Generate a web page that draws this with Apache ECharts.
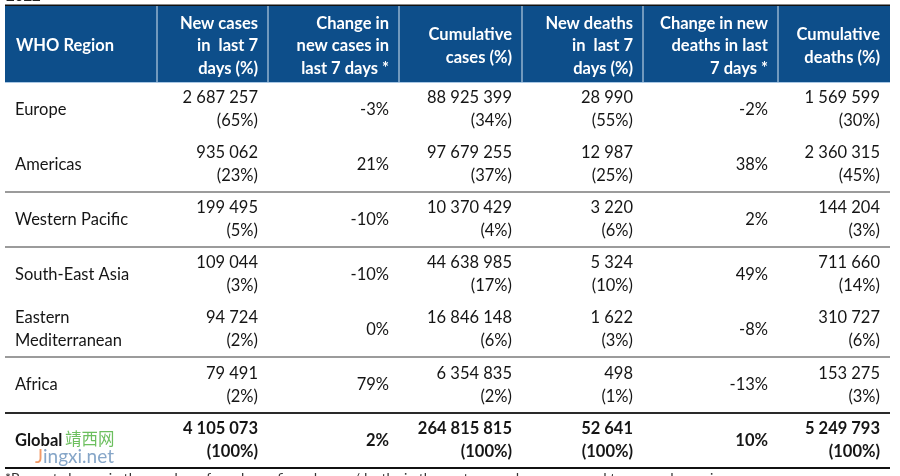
<!DOCTYPE html>
<html>
<head>
<meta charset="utf-8">
<script src="https://cdn.jsdelivr.net/npm/echarts@6/dist/echarts.min.js"></script>
<style>
html,body{margin:0;padding:0;background:#fff;}
#chart{width:900px;height:476px;}
</style>
</head>
<body>
<div id="chart"></div>
<script>
// ---- data ----
const headers = ['WHO Region', 'New cases\nin  last 7\ndays (%)', 'Change in\nnew cases in\nlast 7 days *', 'Cumulative\ncases (%)', 'New deaths\nin  last 7\ndays (%)', 'Change in new\ndeaths in last\n7 days *', 'Cumulative\ndeaths (%)'];
const regions = ['Europe', 'Americas', 'Western Pacific', 'South-East Asia', 'Eastern\nMediterranean', 'Africa', 'Global'];
const newCases = [2687257, 935062, 199495, 109044, 94724, 79491, 4105073];
const newCasesPct = [65, 23, 5, 3, 2, 2, 100];
const changeCases = [-3, 21, -10, -10, 0, 79, 2];
const cumCases = [88925399, 97679255, 10370429, 44638985, 16846148, 6354835, 264815815];
const cumCasesPct = [34, 37, 4, 17, 6, 2, 100];
const newDeaths = [28990, 12987, 3220, 5324, 1622, 498, 52641];
const newDeathsPct = [55, 25, 6, 10, 3, 1, 100];
const changeDeaths = [-2, 38, 2, 49, -8, -13, 10];
const cumDeaths = [1569599, 2360315, 144204, 711660, 310727, 153275, 5249793];
const cumDeathsPct = [30, 45, 3, 14, 6, 3, 100];
const footnote = '*Percent change in the number of newly confirmed cases/deaths in the past seven days, compared to seven days prior';

// ---- layout (not data) ----
const colEdges = [0, 152, 263, 394, 517, 638, 773, 885];
const rowEdges = [0, 76, 131, 186, 241, 296, 351, 407, 462];
const HEADER_BG = '#0d4e8a';
const FONT = 'Lato, "Open Sans", sans-serif';

function fmt(n) { return String(n).replace(/\B(?=(\d{3})+(?!\d))/g, ' '); }
function pct(p) { return '(' + p + '%)'; }

const cellText = regions.map((r, i) => [
  r,
  fmt(newCases[i]) + '\n' + pct(newCasesPct[i]),
  changeCases[i] + '%',
  fmt(cumCases[i]) + '\n' + pct(cumCasesPct[i]),
  fmt(newDeaths[i]) + '\n' + pct(newDeathsPct[i]),
  changeDeaths[i] + '%',
  fmt(cumDeaths[i]) + '\n' + pct(cumDeathsPct[i])
]);

const headerData = headers.map((h, c) => [c, 0]);
const bodyData = [];
cellText.forEach((row, r) => row.forEach((t, c) => bodyData.push([c, r + 1])));
// bottom rules after body rows: index in rowEdges, style key
const rules = [[3, 'g'], [4, 'g'], [6, 'g'], [7, 'd'], [8, 'b']];

function rect(api, c, r) {
  const p0 = api.coord([colEdges[c], rowEdges[r]]);
  const p1 = api.coord([colEdges[c + 1], rowEdges[r + 1]]);
  return { x: p0[0], y: p0[1], w: p1[0] - p0[0], h: p1[1] - p0[1] };
}

const chart = echarts.init(document.getElementById('chart'), null, { renderer: 'canvas' });
chart.setOption({
  animation: false,
  backgroundColor: '#fff',
  grid: { left: 5, top: 6, width: 885, height: 462, containLabel: false },
  xAxis: { type: 'value', min: 0, max: 885, show: false },
  yAxis: { type: 'value', min: 0, max: 462, inverse: true, show: false },
  graphic: [
    { type: 'rect', left: 5, top: 4.5, shape: { width: 885, height: 1.5 }, style: { fill: '#111' } },
    { type: 'text', left: 6, top: -11, style: { text: '2022', font: 'bold 15px ' + FONT, fill: '#222' } },
    { type: 'text', left: 65, top: 430, style: { text: '靖西网', font: '16.5px "Noto Sans CJK SC", sans-serif', fill: '#6cbf5e' } },
    { type: 'text', left: 35, top: 447, style: { rich: { j: { fill: '#f29a66', font: '19px ' + FONT }, n: { fill: '#86a6c8', font: '19px ' + FONT } }, text: '{j|J}{n|ingxi.net}' } },
    { type: 'text', left: 5, top: 471.5, style: { text: footnote, font: '14px ' + FONT, fill: '#333' } }
  ],
  series: [
    {
      type: 'custom', coordinateSystem: 'cartesian2d', data: headerData, silent: true,
      renderItem: function (params, api) {
        const c = api.value(0), r = api.value(1);
        const b = rect(api, c, r);
        const children = [
          { type: 'rect', shape: { x: b.x, y: b.y, width: b.w, height: b.h }, style: { fill: HEADER_BG } },
          { type: 'rect', shape: { x: b.x, y: b.y + b.h, width: b.w, height: 1 }, style: { fill: '#a9c7e4' } }
        ];
        if (c > 0) children.push({ type: 'rect', shape: { x: b.x - 0.5, y: b.y, width: 1, height: b.h }, style: { fill: '#d6e3f0' } });
        const left = c === 0;
        children.push({
          type: 'text',
          style: {
            text: headers[c], x: left ? b.x + 11 : b.x + b.w - 10, y: b.y + b.h / 2 + 2,
            align: left ? 'left' : 'right', verticalAlign: 'middle',
            textAlign: left ? 'left' : 'right', textVerticalAlign: 'middle',
            font: 'bold 16.5px ' + FONT, fill: '#fff', lineHeight: 22.5
          }
        });
        return { type: 'group', children: children };
      }
    },
    {
      type: 'custom', coordinateSystem: 'cartesian2d', data: bodyData, silent: true,
      renderItem: function (params, api) {
        const c = api.value(0), r = api.value(1);
        const b = rect(api, c, r);
        const left = c === 0;
        const bold = r === rowEdges.length - 2;
        return {
          type: 'text',
          style: {
            text: cellText[r - 1][c], x: left ? b.x + 10 : b.x + b.w - 10, y: b.y + b.h / 2,
            align: left ? 'left' : 'right', verticalAlign: 'middle',
            textAlign: left ? 'left' : 'right', textVerticalAlign: 'middle',
            font: (bold ? 'bold ' : '') + '16.5px ' + FONT, fill: '#151515', lineHeight: 23
          }
        };
      }
    },
    {
      type: 'custom', coordinateSystem: 'cartesian2d', data: rules.map(r => [r[0]]), silent: true,
      renderItem: function (params, api) {
        const idx = api.value(0);
        const kind = rules[params.dataIndex][1];
        const p0 = api.coord([colEdges[0], rowEdges[idx]]);
        const p1 = api.coord([colEdges[colEdges.length - 1], rowEdges[idx]]);
        const w = kind === 'g' ? 1.6 : 2.2;
        const col = kind === 'g' ? '#7a7a7a' : (kind === 'd' ? '#2a2a2a' : '#111');
        return { type: 'rect', shape: { x: p0[0], y: p0[1] - w / 2, width: p1[0] - p0[0], height: w }, style: { fill: col } };
      }
    }
  ]
});
</script>
</body>
</html>
